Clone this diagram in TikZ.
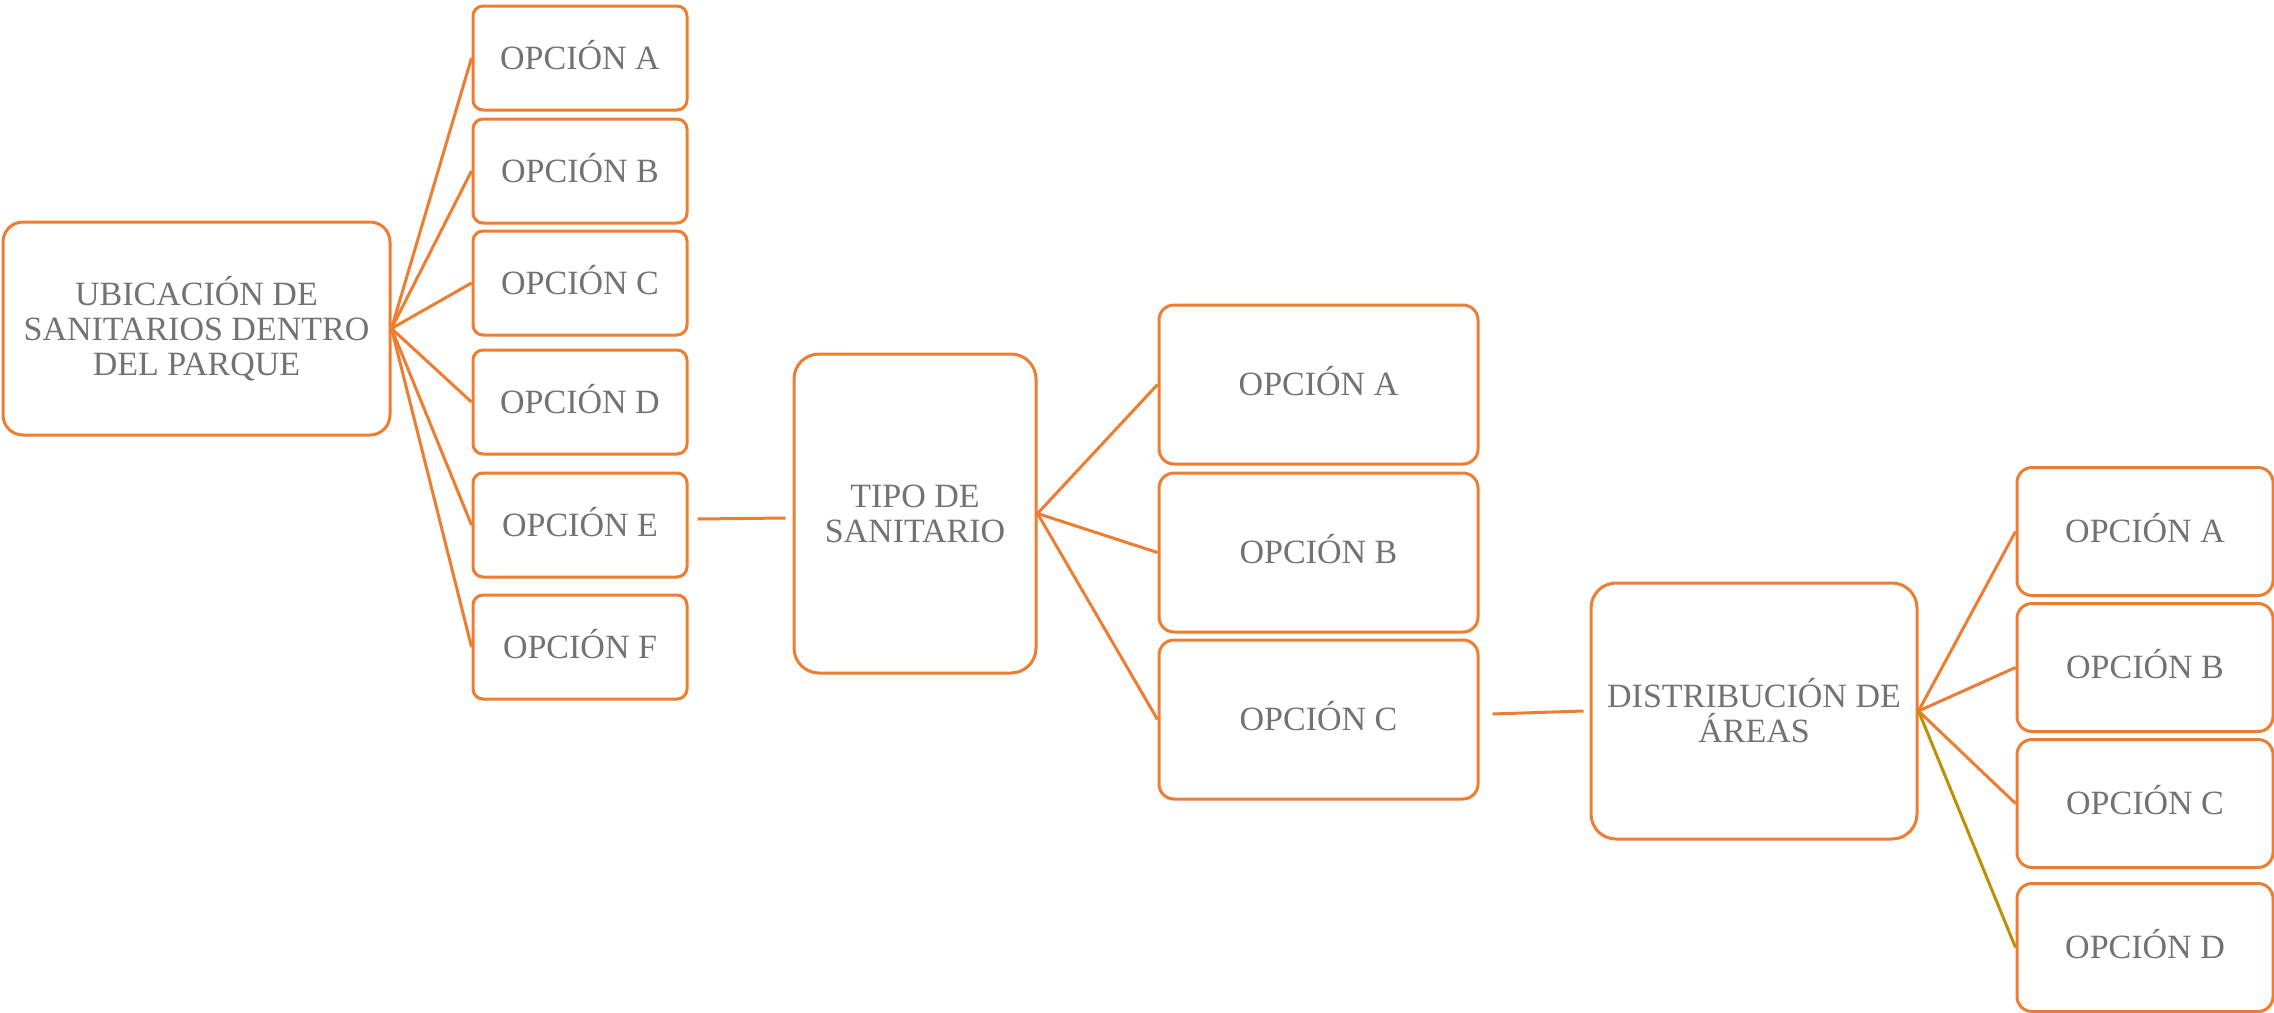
\documentclass[tikz,border=0pt]{standalone}
\usepackage{fontspec}
\setmainfont{Liberation Serif}
\definecolor{orng}{HTML}{ED7D31}
\definecolor{txtgray}{HTML}{767171}
\definecolor{goldline}{HTML}{BF9000}
\tikzset{
  box/.style={draw=orng, line width=3pt, rounded corners=10pt, fill=white,
    text=txtgray, font=\fontsize{34}{35}\selectfont, inner sep=0pt},
  mainbox/.style={box, align=center},
  optbox/.style={box, text height=22.5pt, text depth=0pt},
  conn/.style={draw=orng, line width=3pt},
  goldconn/.style={draw=goldline, line width=3pt},
}
\begin{document}
\begin{tikzpicture}[x=1pt,y=-1pt]
\useasboundingbox (0,0) rectangle (2274,1012);
\fill[white] (0,0) rectangle (2274,1012);

% main boxes
\node[mainbox, rounded corners=20pt, minimum width=387pt, minimum height=213pt] (U) at (196.5,328.5)
  {UBICACIÓN DE\\SANITARIOS DENTRO\\DEL PARQUE};
\node[mainbox, rounded corners=25pt, minimum width=242pt, minimum height=319pt] (T) at (915,513.5)
  {TIPO DE\\SANITARIO};
\node[mainbox, rounded corners=25pt, minimum width=326pt, minimum height=256pt] (D) at (1754,711)
  {DISTRIBUCIÓN DE\\ÁREAS};

% left options
\foreach \n/\y/\t in {LA/58/A, LB/171/B, LC/283/C, LD/402/D, LE/525/E, LF/647/F}{
  \node[optbox, minimum width=214pt, minimum height=104pt] (\n) at (580,\y) {OPCIÓN \t};
}
% middle options
\foreach \n/\y/\t in {MA/384.5/A, MB/552.5/B, MC/719.5/C}{
  \node[optbox, rounded corners=15pt, minimum width=319pt, minimum height=159pt] (\n) at (1318.5,\y) {OPCIÓN \t};
}
% right options
\foreach \n/\y/\t in {RA/531.5/A, RB/667.5/B, RC/803.5/C, RD/947.5/D}{
  \node[optbox, rounded corners=15pt, minimum width=256pt, minimum height=128pt] (\n) at (2145,\y) {OPCIÓN \t};
}

% connectors
\foreach \n in {LA,LB,LC,LD,LE,LF}{
  \draw[conn] (U.east) -- (\n.west);
}
\draw[conn] ([xshift=9pt,yshift=6pt]LE.east) -- ([xshift=-7pt,yshift=-4.5pt]T.west);
\foreach \n in {MA,MB,MC}{
  \draw[conn] (T.east) -- (\n.west);
}
\draw[conn] ([xshift=13pt,yshift=5.5pt]MC.east) -- ([xshift=-6pt]D.west);
\foreach \n in {RA,RB,RC}{
  \draw[conn] (D.east) -- (\n.west);
}
\draw[goldconn] (D.east) -- (RD.west);
\end{tikzpicture}
\end{document}
